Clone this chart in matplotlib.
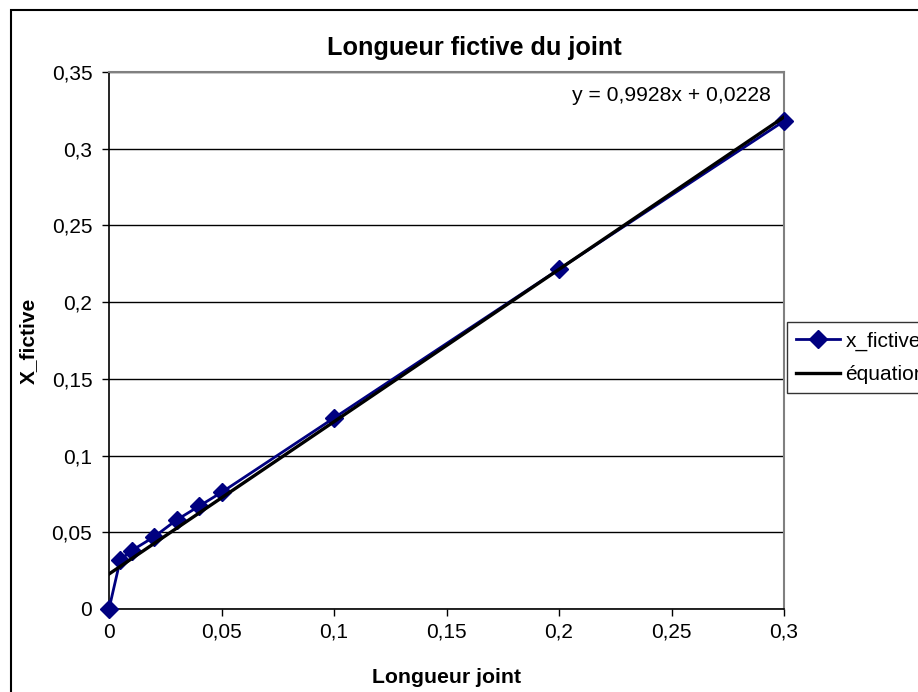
import matplotlib.pyplot as plt
from matplotlib.patches import Rectangle

plt.rcParams['font.family'] = ['Liberation Sans', 'DejaVu Sans']

# data
longueur = [0, 0.005, 0.01, 0.02, 0.03, 0.04, 0.05, 0.1, 0.2, 0.3]
x_fictive = [0, 0.032, 0.038, 0.047, 0.058, 0.067, 0.076, 0.1245, 0.2215, 0.318]
pente = 0.9928
origine = 0.0228
xticks = [0, 0.05, 0.1, 0.15, 0.2, 0.25, 0.3]
xticklabels = ['0', '0,05', '0,1', '0,15', '0,2', '0,25', '0,3']
yticks = [0, 0.05, 0.1, 0.15, 0.2, 0.25, 0.3, 0.35]
yticklabels = ['0', '0,05', '0,1', '0,15', '0,2', '0,25', '0,3', '0,35']

fig = plt.figure(figsize=(9.18, 6.92), dpi=100)
ax = fig.add_axes([109/918, 1-609/692, (784-109)/918, (609-72)/692])

# outer chart frame
fig.patches.append(Rectangle((11/918, -0.1), 1.2, 1-10/692+0.1, transform=fig.transFigure,
                             fill=False, edgecolor='black', linewidth=1.5, zorder=0))

ax.plot(longueur, x_fictive, color='#000080', lw=2, marker='D', ms=9,
        label='x_fictive', zorder=3, clip_on=False)
xl = [longueur[0], longueur[-1]]
ax.plot(xl, [pente*v + origine for v in xl], color='black', lw=2.4,
        label='équation', zorder=4)

ax.set_xlim(0, 0.3)
ax.set_ylim(0, 0.35)
ax.set_xticks(xticks)
ax.set_xticklabels(xticklabels, fontsize=15)
ax.set_yticks(yticks)
ax.set_yticklabels(yticklabels, fontsize=15)
ax.tick_params(direction='out', length=5, width=1)
ax.tick_params(axis='y', pad=7)
ax.tick_params(axis='x', pad=5)
ax.yaxis.grid(True, color='black', lw=1)
ax.set_axisbelow(True)
for s in ['top', 'right']:
    ax.spines[s].set_color('#808080')
    ax.spines[s].set_linewidth(1.5)
for s in ['left', 'bottom']:
    ax.spines[s].set_color('black')
    ax.spines[s].set_linewidth(1.2)

fig.text(474/918, 1-48/692, 'Longueur fictive du joint', fontsize=18.2, fontweight='bold',
         ha='center', va='center')
ax.set_xlabel('Longueur joint', fontsize=15.3, fontweight='bold', labelpad=19)
ax.set_ylabel('X_fictive', fontsize=15, fontweight='bold', labelpad=10)

ax.text(0.294, 0.3345, 'y = 0,9928x + 0,0228', fontsize=15.2, ha='right', va='center')

leg = fig.legend(loc='upper left', bbox_to_anchor=(787/918, 1-322/692), fontsize=15,
                 frameon=True, fancybox=False, edgecolor='black', handlelength=2.1,
                 borderpad=0.45, labelspacing=0.68, handletextpad=0.25, borderaxespad=0)
leg.get_frame().set_linewidth(1)

plt.savefig('out.png', dpi=100)
